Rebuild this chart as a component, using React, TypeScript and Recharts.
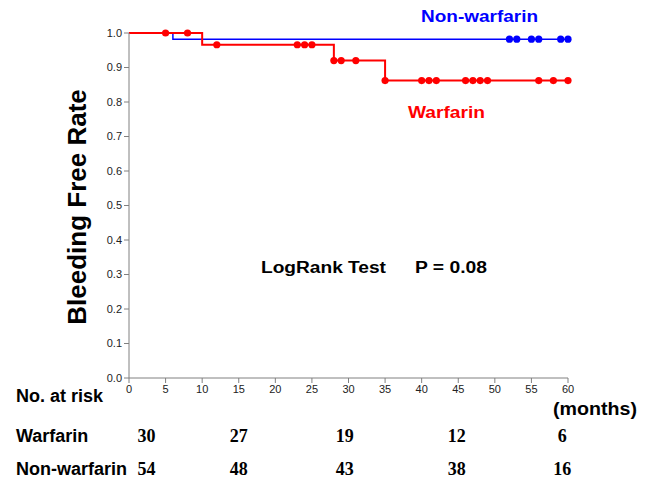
import React from 'react';
import { ComposedChart, Line, Scatter, XAxis, YAxis } from 'recharts';

// step curves (time in months, survival)
const warfarinSteps = [
  { t: 0, s: 1.0 },
  { t: 10, s: 0.966 },
  { t: 28, s: 0.92 },
  { t: 35, s: 0.862 },
  { t: 60, s: 0.862 },
];
const nonWarfarinSteps = [
  { t: 0, s: 1.0 },
  { t: 6, s: 0.982 },
  { t: 60, s: 0.982 },
];

// censored observations
const warfarinCensored = [
  { t: 5, s: 1.0 }, { t: 8, s: 1.0 },
  { t: 12, s: 0.966 }, { t: 23, s: 0.966 }, { t: 24, s: 0.966 }, { t: 25, s: 0.966 },
  { t: 28, s: 0.92 }, { t: 29, s: 0.92 }, { t: 31, s: 0.92 },
  { t: 35, s: 0.862 }, { t: 40, s: 0.862 }, { t: 41, s: 0.862 }, { t: 42, s: 0.862 },
  { t: 46, s: 0.862 }, { t: 47, s: 0.862 }, { t: 48, s: 0.862 }, { t: 49, s: 0.862 },
  { t: 56, s: 0.862 }, { t: 58, s: 0.862 }, { t: 60, s: 0.862 },
];
const nonWarfarinCensored = [
  { t: 52, s: 0.982 }, { t: 53, s: 0.982 }, { t: 55, s: 0.982 },
  { t: 56, s: 0.982 }, { t: 59, s: 0.982 }, { t: 60, s: 0.982 },
];

const xTicks = [0, 5, 10, 15, 20, 25, 30, 35, 40, 45, 50, 55, 60];
const yTicks = [0, 0.1, 0.2, 0.3, 0.4, 0.5, 0.6, 0.7, 0.8, 0.9, 1.0];

const riskMonths = [2.4, 15, 29.5, 44.8, 59.2];
const warfarinAtRisk = [30, 27, 19, 12, 6];
const nonWarfarinAtRisk = [54, 48, 43, 38, 16];

const W = 646;
const H = 482;
const LEFT = 129;
const RIGHT = 78;
const TOP = 33;
const BOTTOM = 104;
const plotW = W - LEFT - RIGHT;
const xPix = (m: number) => LEFT + (m / 60) * plotW;

const sans = '"Liberation Sans", Arial, sans-serif';
const serif = '"Liberation Serif", "Times New Roman", serif';

const dot = (color: string) => (p: any) => (
  <circle cx={p.cx} cy={p.cy} r={3.6} fill={color} />
);

export default function App() {
  return (
    <div style={{ position: 'absolute', left: 0, top: 0, width: W, height: H, background: '#fff' }}>
      <ComposedChart width={W} height={H} margin={{ top: TOP, right: RIGHT, left: 0, bottom: 0 }}>
        <XAxis
          type="number"
          dataKey="t"
          domain={[0, 60]}
          ticks={xTicks}
          height={BOTTOM}
          stroke="#808080"
          tickSize={5}
          tick={{ fill: '#222', fontSize: 11, fontFamily: sans }}
          allowDuplicatedCategory={false}
        />
        <YAxis
          type="number"
          dataKey="s"
          domain={[0, 1]}
          ticks={yTicks}
          width={LEFT}
          stroke="#808080"
          tickSize={5}
          tickFormatter={(v: number) => v.toFixed(1)}
          tick={{ fill: '#222', fontSize: 11, fontFamily: sans }}
        />
        <Line
          data={nonWarfarinSteps}
          dataKey="s"
          type="stepAfter"
          stroke="#0000ff"
          strokeWidth={1.5}
          dot={false}
          isAnimationActive={false}
        />
        <Line
          data={warfarinSteps}
          dataKey="s"
          type="stepAfter"
          stroke="#ff0000"
          strokeWidth={2}
          dot={false}
          isAnimationActive={false}
        />
        <Scatter data={nonWarfarinCensored} dataKey="s" shape={dot('#0000ff')} isAnimationActive={false} />
        <Scatter data={warfarinCensored} dataKey="s" shape={dot('#ff0000')} isAnimationActive={false} />
      </ComposedChart>

      <svg width={W} height={H} style={{ position: 'absolute', left: 0, top: 0, pointerEvents: 'none' }}>
        <text
          x={86}
          y={207}
          transform="rotate(-90 86 207)"
          textAnchor="middle"
          fontFamily={sans}
          fontWeight="bold"
          fontSize={26}
          fill="#000"
        >
          Bleeding Free Rate
        </text>
        <text x={421} y={22} fontFamily={sans} fontWeight="bold" fontSize={17} fill="#0000ff"
          textLength={117} lengthAdjust="spacingAndGlyphs">
          Non-warfarin
        </text>
        <text x={408} y={118} fontFamily={sans} fontWeight="bold" fontSize={17} fill="#ff0000"
          textLength={77} lengthAdjust="spacingAndGlyphs">
          Warfarin
        </text>
        <text x={261} y={273} fontFamily={sans} fontWeight="bold" fontSize={16} fill="#000"
          textLength={125} lengthAdjust="spacingAndGlyphs">
          LogRank Test
        </text>
        <text x={415} y={273} fontFamily={sans} fontWeight="bold" fontSize={16} fill="#000"
          textLength={72} lengthAdjust="spacingAndGlyphs">
          P = 0.08
        </text>
        <text x={16} y={402} fontFamily={sans} fontWeight="bold" fontSize={18} fill="#000">
          No. at risk
        </text>
        <text x={553} y={415} fontFamily={sans} fontWeight="bold" fontSize={18} fill="#000"
          textLength={84} lengthAdjust="spacingAndGlyphs">
          (months)
        </text>
        <text x={16} y={442} fontFamily={sans} fontWeight="bold" fontSize={18} fill="#000">
          Warfarin
        </text>
        <text x={16} y={475} fontFamily={sans} fontWeight="bold" fontSize={18} fill="#000">
          Non-warfarin
        </text>
        {warfarinAtRisk.map((n, i) => (
          <text key={'w' + i} x={xPix(riskMonths[i])} y={442} textAnchor="middle" fontFamily={serif} fontWeight="bold" fontSize={18} fill="#000">
            {n}
          </text>
        ))}
        {nonWarfarinAtRisk.map((n, i) => (
          <text key={'n' + i} x={xPix(riskMonths[i])} y={475} textAnchor="middle" fontFamily={serif} fontWeight="bold" fontSize={18} fill="#000">
            {n}
          </text>
        ))}
      </svg>
    </div>
  );
}
